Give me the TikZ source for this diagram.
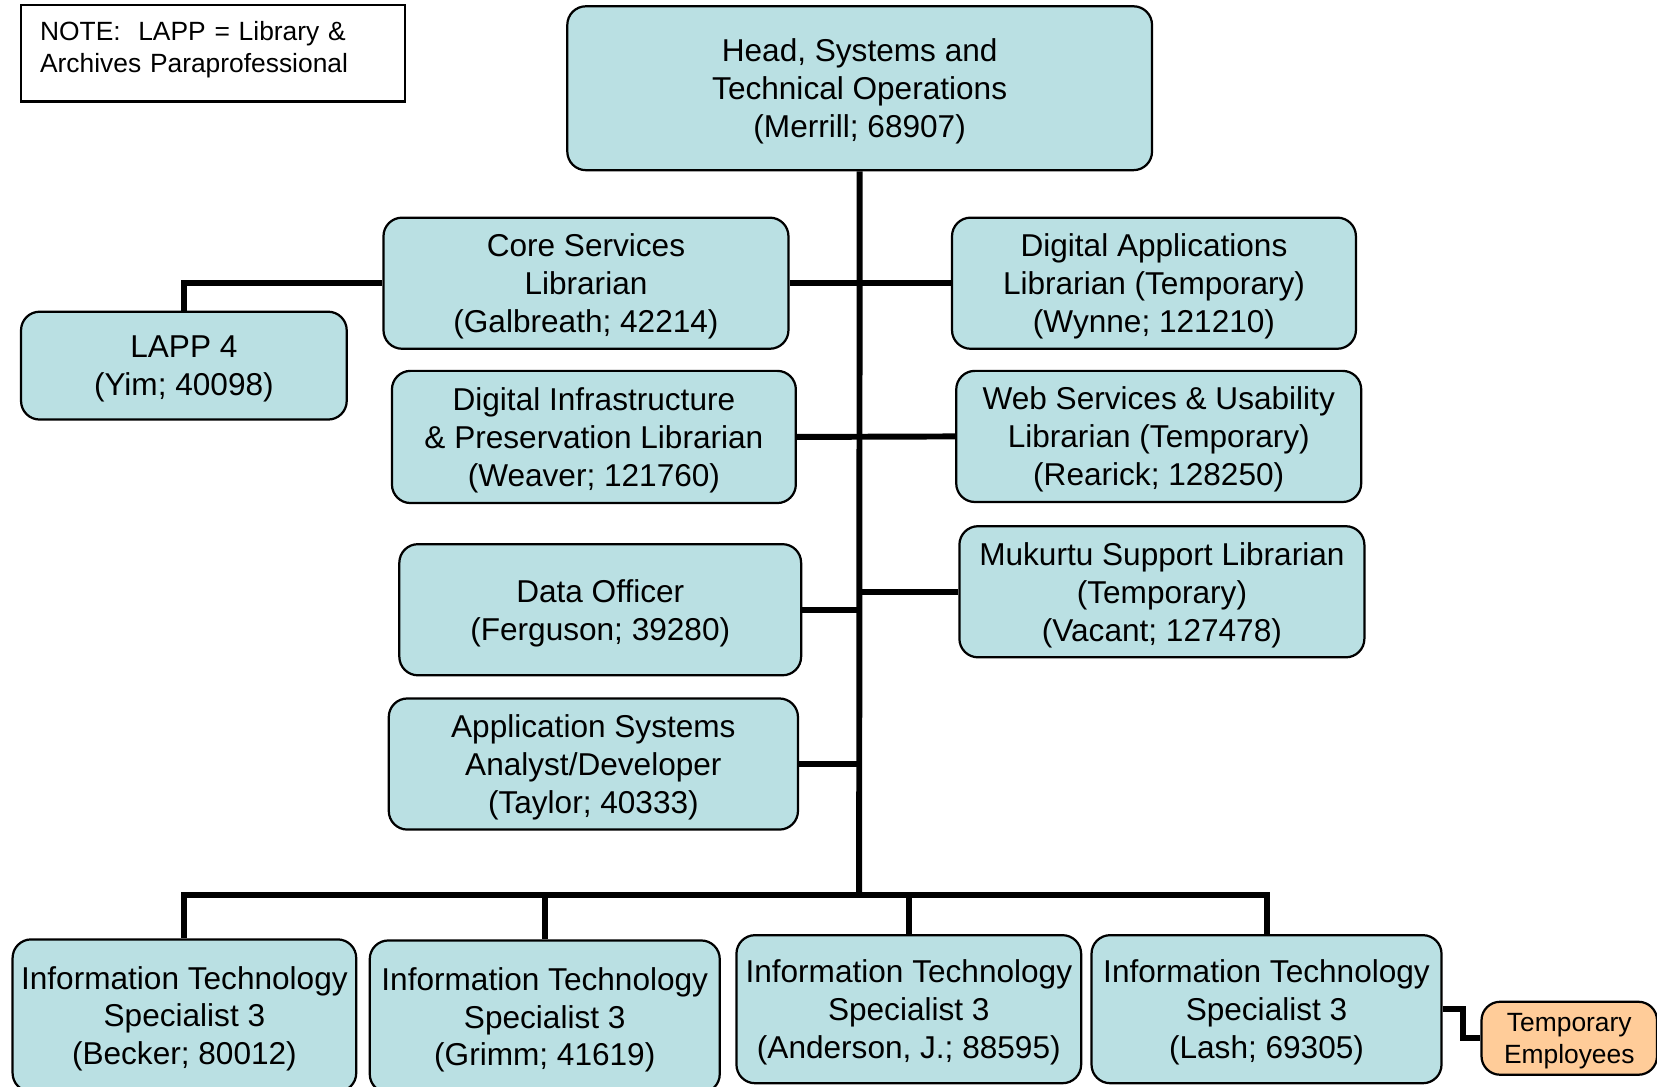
\documentclass[tikz,border=0pt]{standalone}
\usepackage{fontspec}
\setmainfont{Liberation Sans}
\usetikzlibrary{positioning,calc}
\definecolor{boxblue}{RGB}{186,224,227}
\definecolor{temporange}{RGB}{255,204,153}
\tikzset{
  block/.style={draw,line width=0.6pt,rounded corners=5pt,align=center,inner sep=1pt,fill=boxblue,
    text depth=0pt,font=\fontsize{8.5}{10.2}\selectfont},
  note/.style={draw,line width=0.6pt,align=left,inner xsep=0.18cm,text width=3.27cm,minimum height=0.91cm,
    text depth=12pt,font=\fontsize{7.1}{8.5}\selectfont},
  link/.style={line width=1.6pt},
}

\begin{document}
\begin{tikzpicture}[x=0.01cm,y=-0.01cm]
			\useasboundingbox (0,0) rectangle (1568,1028);
			% top and the note
			\node[note] (note) at (201.5,50.5) {NOTE:\ \ LAPP = Library \&\\Archives Paraprofessional};
			\node[block,minimum width=5.53cm,minimum height=1.55cm] (head) at (813.5,83.5) {Head, Systems and\\Technical Operations\\(Merrill; 68907)};
			% left column
			\node[block,minimum width=3.83cm,minimum height=1.24cm] (core) at (554.5,268) {Core Services\\Librarian\\(Galbreath; 42214)};
			\node[block,minimum width=3.08cm,minimum height=1.02cm] (lapp) at (174,346) {LAPP 4\\(Yim; 40098)};
			\node[block,minimum width=3.82cm,minimum height=1.25cm] (dinf) at (562,413.5) {Digital Infrastructure\\\& Preservation Librarian\\(Weaver; 121760)};
			\node[block,minimum width=3.80cm,minimum height=1.24cm] (data) at (568,577) {Data Officer\\(Ferguson; 39280)};
			\node[block,minimum width=3.87cm,minimum height=1.24cm] (app) at (561.5,723) {Application Systems\\Analyst/Developer\\(Taylor; 40333)};
			% right column
			\node[block,minimum width=3.82cm,minimum height=1.24cm] (dapp) at (1092,268) {Digital Applications\\Librarian (Temporary)\\(Wynne; 121210)};
			\node[block,minimum width=3.83cm,minimum height=1.24cm] (web) at (1096.5,413) {Web Services \& Usability\\Librarian (Temporary)\\(Rearick; 128250)};
			\node[block,minimum width=3.83cm,minimum height=1.24cm] (muk) at (1099.5,560) {Mukurtu Support Librarian\\(Temporary)\\(Vacant; 127478)};
			% bottom row
			\node[block,minimum width=3.25cm,minimum height=1.44cm] (it1) at (174.5,961) {Information Technology\\Specialist 3\\(Becker; 80012)};
			\node[block,minimum width=3.31cm,minimum height=1.44cm] (it2) at (515.5,962) {Information Technology\\Specialist 3\\(Grimm; 41619)};
			\node[block,minimum width=3.26cm,minimum height=1.40cm] (it3) at (860,955) {Information Technology\\Specialist 3\\(Anderson, J.; 88595)};
			\node[block,minimum width=3.31cm,minimum height=1.40cm] (it4) at (1198.5,955) {Information Technology\\Specialist 3\\(Lash; 69305)};
			\node[block,fill=temporange,minimum width=1.66cm,minimum height=0.69cm,font=\fontsize{7.1}{8.5}\selectfont] (temp) at (1485,982.5) {Temporary\\Employees};
			% connectors
			\coordinate (bus) at (813,847);
			\draw[link] (head.south) -- (bus);
			\draw[link] (core.east) -- (dapp.west);
			\draw[link] (core.west) -| (lapp.north);
			\draw[link] (dinf.east) -- (web.west);
			\draw[link] (muk.west) -- (muk.west -| bus);
			\draw[link] (data.east) -- (data.east -| bus);
			\draw[link] (app.east) -- (app.east -| bus);
			\draw[link] (bus) -| (it1.north);
			\draw[link] (bus) -| (it2.north);
			\draw[link] (bus) -| (it3.north);
			\draw[link] (bus) -| (it4.north);
			\draw[link] (it4.east) -- ++(19,0) |- (temp.west);
		\end{tikzpicture}
\end{document}
